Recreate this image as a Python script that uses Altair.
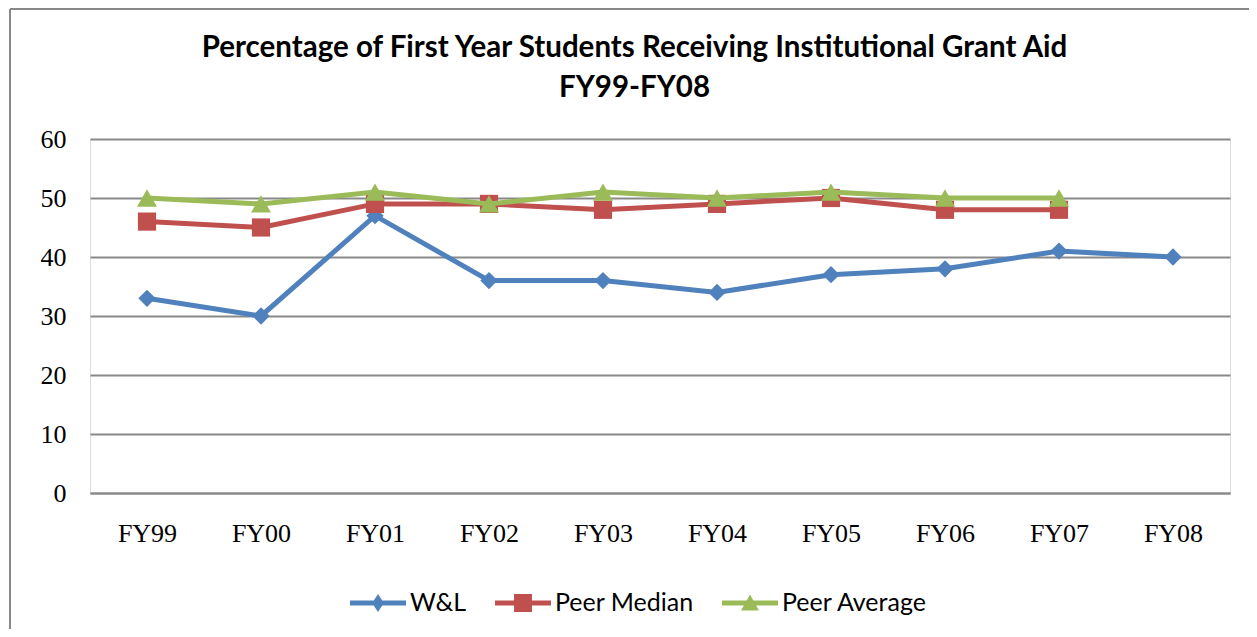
import altair as alt
import pandas as pd

years = ["FY99", "FY00", "FY01", "FY02", "FY03", "FY04", "FY05", "FY06", "FY07", "FY08"]
wl = [33, 30, 47, 36, 36, 34, 37, 38, 41, 40]
peer_median = [46, 45, 49, 49, 48, 49, 50, 48, 48]
peer_average = [50, 49, 51, 49, 51, 50, 51, 50, 50]
series_names = ["W&L", "Peer Median", "Peer Average"]
series_values = [wl, peer_median, peer_average]
colors = ["#4F81BD", "#C0504D", "#9BBB59"]
title_lines = ["Percentage of First Year Students Receiving Institutional Grant Aid", "FY99-FY08"]
y_ticks = [0, 10, 20, 30, 40, 50, 60]

rows = []
for name, vals in zip(series_names, series_values):
    for yr, v in zip(years, vals):
        rows.append({"series": name, "year": yr, "value": v})
df = pd.DataFrame(rows)

GRID = "#898989"
SERIF = "Liberation Serif"
SANS = "Lato"

x_enc = alt.X("year:N", sort=years,
              scale=alt.Scale(domain=years, padding=0.5),
              axis=alt.Axis(title=None, labelAngle=0, ticks=False, grid=False,
                            domainColor=GRID, domainWidth=2,
                            labelFont=SERIF, labelFontSize=26, labelColor="black",
                            labelPadding=27))
y_enc = alt.Y("value:Q", scale=alt.Scale(domain=[0, 60], nice=False),
              axis=alt.Axis(title=None, values=y_ticks, ticks=False, domain=False,
                            grid=True, gridColor=GRID, gridWidth=2, gridOpacity=1,
                            labelFont=SERIF, labelFontSize=26, labelColor="black",
                            labelPadding=24))

marker_shapes = ["diamond", "square", "triangle-up"]
marker_sizes = [300, 330, 400]

legend_paths = [
    "M-1,-0.09L1,-0.09L1,0.09L-1,0.09Z M-0.21,0L0,-0.32L0.21,0L0,0.32Z",
    "M-1,-0.09L1,-0.09L1,0.09L-1,0.09Z M-0.32,-0.32L0.32,-0.32L0.32,0.32L-0.32,0.32Z",
    "M-1,-0.09L1,-0.09L1,0.09L-1,0.09Z M0,-0.3L0.32,0.27L-0.32,0.27Z",
]

layers = []
frame = pd.DataFrame({"a": [0]})
layers.append(alt.Chart(frame).mark_rule(color="#888888", strokeWidth=2).encode(
    x=alt.value(-80), y=alt.value(-130), y2=alt.value(2000)))
layers.append(alt.Chart(frame).mark_rule(color="#888888", strokeWidth=2).encode(
    x=alt.value(-80), x2=alt.value(2000), y=alt.value(-130)))

# Title lines as text marks (two lines, centred on the chart frame)
for line, ypos in zip(title_lines, [-82, -42]):
    layers.append(alt.Chart(frame).mark_text(
        font=SANS, fontWeight="bold", fontSize=29.5, color="black",
        align="center", baseline="alphabetic").encode(
        x=alt.value(544.5), y=alt.value(ypos), text=alt.value(line)))

for name, col, shp, sz in zip(series_names, colors, marker_shapes, marker_sizes):
    sub = df[df["series"] == name]
    base = alt.Chart(sub)
    layers.append(base.mark_line(color=col, strokeWidth=5).encode(x=x_enc, y=y_enc))
    layers.append(base.mark_point(color=col, filled=True, opacity=1, shape=shp, size=sz).encode(x=x_enc, y=y_enc))

legend = alt.Legend(title=None, orient="none", direction="horizontal",
                    legendX=260, legendY=436, symbolSize=3136, symbolOpacity=1,
                    symbolStrokeWidth=0,
                    labelFont=SANS, labelFontSize=25, labelColor="black",
                    labelOffset=4, columnPadding=28)
layers.append(alt.Chart(df).mark_point(filled=True, opacity=0).encode(
    x=x_enc, y=y_enc,
    color=alt.Color("series:N", scale=alt.Scale(domain=series_names, range=colors), legend=legend),
    shape=alt.Shape("series:N", scale=alt.Scale(domain=series_names, range=legend_paths), legend=legend),
))

chart = alt.layer(*layers).properties(
    width=1140, height=354,
    autosize="none",
    padding={"left": 82, "top": 131, "right": 19, "bottom": 136},
).configure_view(stroke=None).configure(background="white")

chart.save("out.html", embed_options={"renderer": "svg", "actions": False})
